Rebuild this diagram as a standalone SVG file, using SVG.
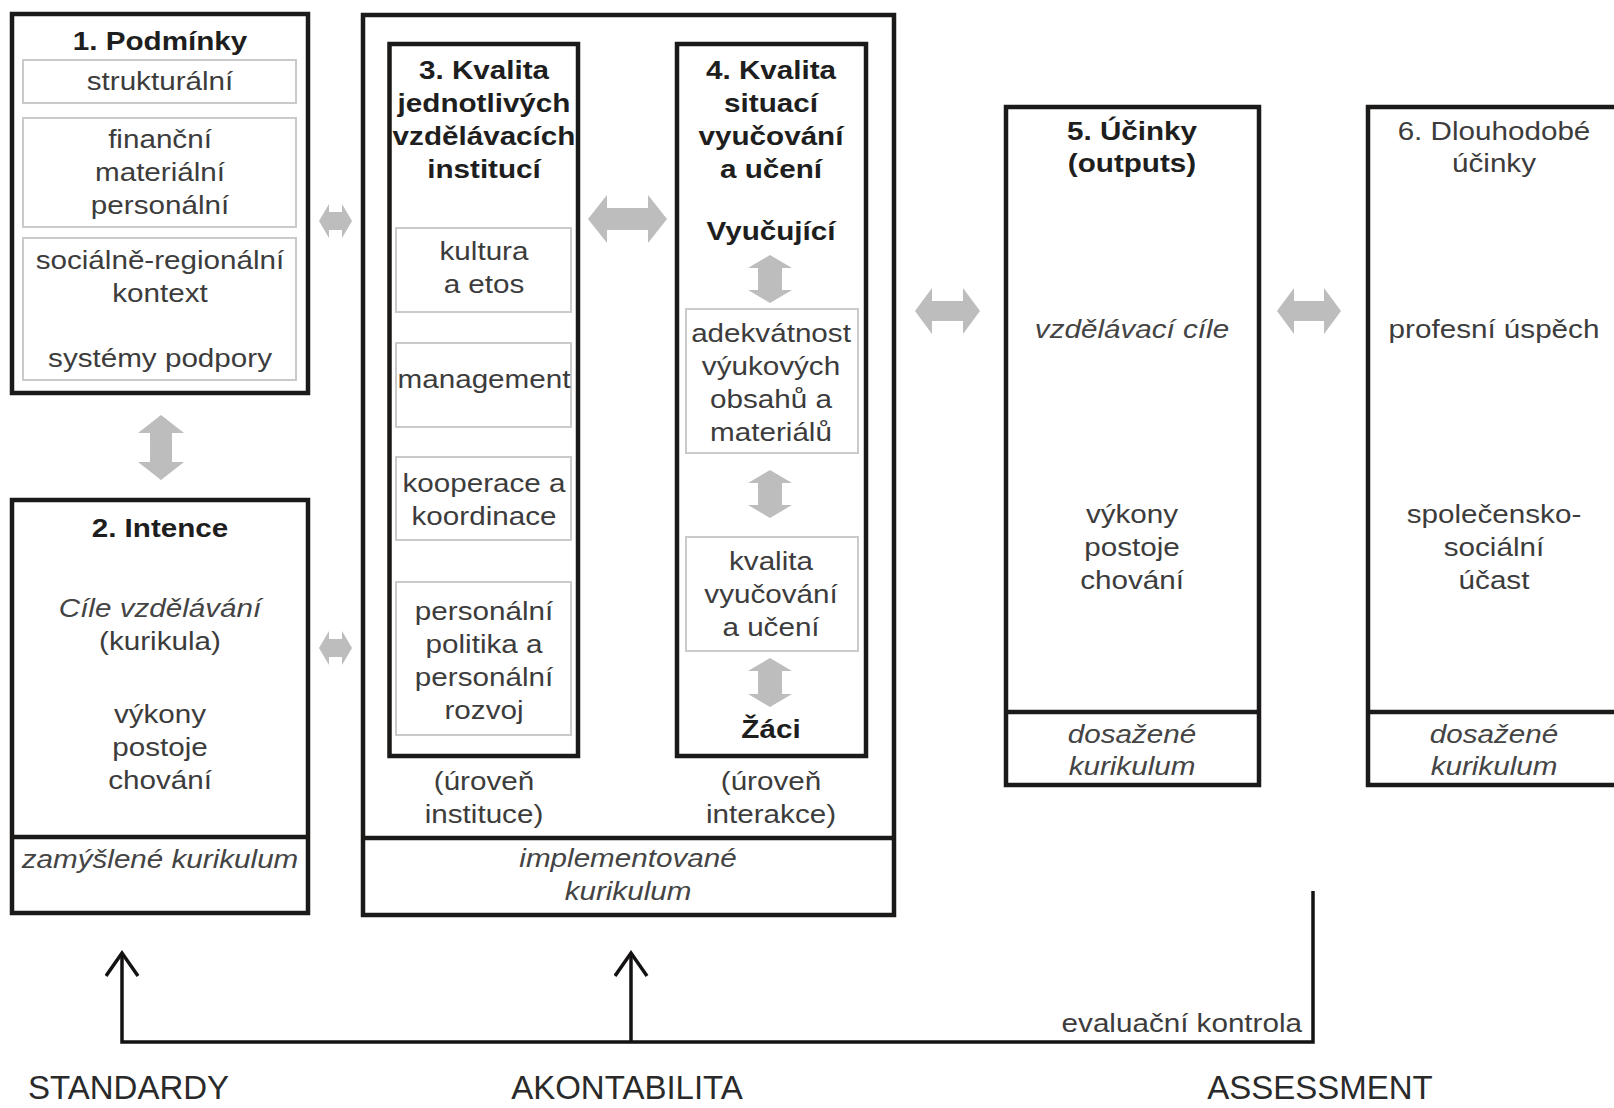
<svg xmlns="http://www.w3.org/2000/svg" width="1614" height="1108" viewBox="0 0 1614 1108">
<style>
  .box{fill:#fff;stroke:#1c1919;stroke-width:4.5}
  .div{stroke:#1c1919;stroke-width:4.5;fill:none}
  .sub{fill:#fff;stroke:#cacaca;stroke-width:2}
  .ga{fill:#bdbdbd}
  text{font-family:"Liberation Sans",Arial,sans-serif;font-size:26px;text-anchor:middle;fill:#3c3c3c}
  .b{font-weight:bold;fill:#1e1e1e}
  .i{font-style:italic;fill:#444}
  .big{font-size:33px;fill:#2a2a2a}
  .con{fill:none;stroke:#151212;stroke-width:3.5}
</style>
<defs>
  <marker id="open" markerWidth="30" markerHeight="40" refX="24" refY="17" orient="auto" markerUnits="userSpaceOnUse">
    <path d="M1,1 L24,17 L1,33" fill="none" stroke="#151212" stroke-width="3.5"/>
  </marker>
</defs>
<rect width="1614" height="1108" fill="#fff"/>

<g id="node1">
  <rect class="box" x="12" y="14" width="296" height="379"/>
  <rect class="sub" x="23" y="60" width="273" height="43"/>
  <rect class="sub" x="23" y="118" width="273" height="109"/>
  <rect class="sub" x="23" y="238" width="273" height="142"/>
  <text class="b" transform="translate(160,50) scale(1.14,1)">1. Podmínky</text>
  <text transform="translate(160,90) scale(1.14,1)">strukturální</text>
  <text transform="translate(160,148) scale(1.14,1)"><tspan x="0">finanční</tspan><tspan x="0" dy="33">materiální</tspan><tspan x="0" dy="33">personální</tspan></text>
  <text transform="translate(160,269) scale(1.14,1)"><tspan x="0">sociálně-regionální</tspan><tspan x="0" dy="33">kontext</tspan></text>
  <text transform="translate(160,367) scale(1.14,1)">systémy podpory</text>
</g>

<g id="node2">
  <rect class="box" x="12" y="500" width="296" height="413"/>
  <line class="div" x1="12" y1="837" x2="308" y2="837"/>
  <text class="b" transform="translate(160,537) scale(1.14,1)">2. Intence</text>
  <text transform="translate(160,617) scale(1.14,1)"><tspan x="0" class="i">Cíle vzdělávání</tspan><tspan x="0" dy="33">(kurikula)</tspan></text>
  <text transform="translate(160,723) scale(1.14,1)"><tspan x="0">výkony</tspan><tspan x="0" dy="33">postoje</tspan><tspan x="0" dy="33">chování</tspan></text>
  <text class="i" transform="translate(160,868) scale(1.14,1)">zamýšlené kurikulum</text>
</g>

<g id="node-implementation">
  <rect class="box" x="363" y="15" width="531" height="900"/>
  <line class="div" x1="363" y1="838" x2="894" y2="838"/>
  <text transform="translate(484,790) scale(1.14,1)"><tspan x="0">(úroveň</tspan><tspan x="0" dy="33">instituce)</tspan></text>
  <text transform="translate(771,790) scale(1.14,1)"><tspan x="0">(úroveň</tspan><tspan x="0" dy="33">interakce)</tspan></text>
  <text class="i" transform="translate(628,867) scale(1.14,1)"><tspan x="0">implementované</tspan><tspan x="0" dy="33">kurikulum</tspan></text>
</g>

<g id="node3">
  <rect class="box" x="389.5" y="44" width="188.5" height="712"/>
  <rect class="sub" x="396" y="228" width="175" height="84"/>
  <rect class="sub" x="396" y="343" width="175" height="84"/>
  <rect class="sub" x="396" y="457" width="175" height="83"/>
  <rect class="sub" x="396" y="582" width="175" height="153"/>
  <text class="b" transform="translate(484,79) scale(1.14,1)"><tspan x="0">3. Kvalita</tspan><tspan x="0" dy="33">jednotlivých</tspan><tspan x="0" dy="33">vzdělávacích</tspan><tspan x="0" dy="33">institucí</tspan></text>
  <text transform="translate(484,260) scale(1.14,1)"><tspan x="0">kultura</tspan><tspan x="0" dy="33">a etos</tspan></text>
  <text transform="translate(484,388) scale(1.14,1)">management</text>
  <text transform="translate(484,492) scale(1.14,1)"><tspan x="0">kooperace a</tspan><tspan x="0" dy="33">koordinace</tspan></text>
  <text transform="translate(484,620) scale(1.14,1)"><tspan x="0">personální</tspan><tspan x="0" dy="33">politika a</tspan><tspan x="0" dy="33">personální</tspan><tspan x="0" dy="33">rozvoj</tspan></text>
</g>

<g id="node4">
  <rect class="box" x="677" y="44" width="189" height="712"/>
  <rect class="sub" x="686" y="309" width="172" height="144"/>
  <rect class="sub" x="686" y="537" width="172" height="114"/>
  <text class="b" transform="translate(771,79) scale(1.14,1)"><tspan x="0">4. Kvalita</tspan><tspan x="0" dy="33">situací</tspan><tspan x="0" dy="33">vyučování</tspan><tspan x="0" dy="33">a učení</tspan></text>
  <text class="b" transform="translate(771,240) scale(1.14,1)">Vyučující</text>
  <text transform="translate(771,342) scale(1.14,1)"><tspan x="0">adekvátnost</tspan><tspan x="0" dy="33">výukových</tspan><tspan x="0" dy="33">obsahů a</tspan><tspan x="0" dy="33">materiálů</tspan></text>
  <text transform="translate(771,570) scale(1.14,1)"><tspan x="0">kvalita</tspan><tspan x="0" dy="33">vyučování</tspan><tspan x="0" dy="33">a učení</tspan></text>
  <text class="b" transform="translate(771,738) scale(1.14,1)">Žáci</text>
</g>

<g id="node5">
  <rect class="box" x="1006" y="107" width="253" height="678"/>
  <line class="div" x1="1006" y1="712" x2="1259" y2="712"/>
  <text class="b" transform="translate(1132,140) scale(1.14,1)"><tspan x="0">5. Účinky</tspan><tspan x="0" dy="32">(outputs)</tspan></text>
  <text class="i" transform="translate(1132,338) scale(1.14,1)">vzdělávací cíle</text>
  <text transform="translate(1132,523) scale(1.14,1)"><tspan x="0">výkony</tspan><tspan x="0" dy="33">postoje</tspan><tspan x="0" dy="33">chování</tspan></text>
  <text class="i" transform="translate(1132,743) scale(1.14,1)"><tspan x="0">dosažené</tspan><tspan x="0" dy="32">kurikulum</tspan></text>
</g>

<g id="node6">
  <rect class="box" x="1368" y="107" width="262" height="678"/>
  <line class="div" x1="1368" y1="712" x2="1630" y2="712"/>
  <text transform="translate(1494,140) scale(1.14,1)"><tspan x="0">6. Dlouhodobé</tspan><tspan x="0" dy="32">účinky</tspan></text>
  <text transform="translate(1494,338) scale(1.14,1)">profesní úspěch</text>
  <text transform="translate(1494,523) scale(1.14,1)"><tspan x="0">společensko-</tspan><tspan x="0" dy="33">sociální</tspan><tspan x="0" dy="33">účast</tspan></text>
  <text class="i" transform="translate(1494,743) scale(1.14,1)"><tspan x="0">dosažené</tspan><tspan x="0" dy="32">kurikulum</tspan></text>
</g>

<g id="connectors">
  <polygon class="ga" points="161,415 184,433 172,433 172,462 184,462 161,480 138,462 150,462 150,433 138,433"/>
  <polygon class="ga" points="319,221 329,204 329,212 342,212 342,204 352,221 342,238 342,230 329,230 329,238"/>
  <polygon class="ga" points="319,648 329,631 329,639 342,639 342,631 352,648 342,665 342,657 329,657 329,665"/>
  <polygon class="ga" points="588,219 607,195 607,208 648,208 648,195 667,219 648,243 648,230 607,230 607,243"/>
  <polygon class="ga" points="915,311 932,288 932,301 963,301 963,288 980,311 963,334 963,321 932,321 932,334"/>
  <polygon class="ga" points="1277,311 1294,288 1294,301 1324,301 1324,288 1341,311 1324,334 1324,321 1294,321 1294,334"/>
  <polygon class="ga" points="770,255 792,268 782,268 782,290 792,290 770,303 748,290 758,290 758,268 748,268"/>
  <polygon class="ga" points="770,470 792,483 782,483 782,505 792,505 770,518 748,505 758,505 758,483 748,483"/>
  <polygon class="ga" points="770,658 792,671 782,671 782,694 792,694 770,707 748,694 758,694 758,671 748,671"/>
  <path class="con" d="M1313,891 V1042 H122 V953" marker-end="url(#open)"/>
  <path class="con" d="M631,1042 V953" marker-end="url(#open)"/>
  <text transform="translate(1302,1032) scale(1.14,1)" style="text-anchor:end">evaluační kontrola</text>
</g>

<g id="labels">
  <text class="big" x="28" y="1099" style="text-anchor:start">STANDARDY</text>
  <text class="big" x="627" y="1099">AKONTABILITA</text>
  <text class="big" x="1320" y="1099">ASSESSMENT</text>
</g>
</svg>
